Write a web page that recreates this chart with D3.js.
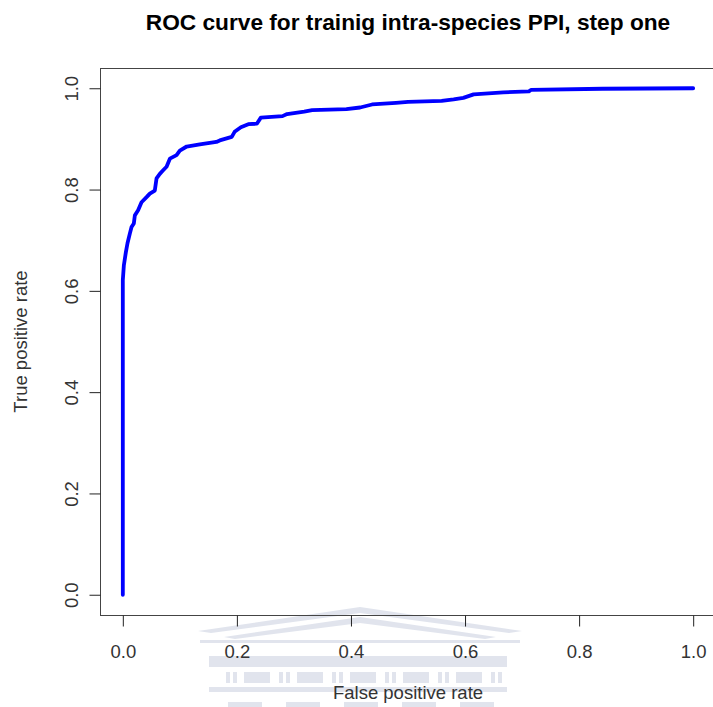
<!DOCTYPE html>
<html>
<head>
<meta charset="utf-8">
<script src="https://cdn.jsdelivr.net/npm/d3@7"></script>
<style>
  html, body { margin: 0; padding: 0; background: #fff; }
  svg { display: block; font-family: "Liberation Sans", Arial, sans-serif; }
</style>
</head>
<body>
<svg id="chart" width="713" height="707"></svg>
<script>
// ROC curve vertices (false positive rate, true positive rate)
const fpr = [0, 0, 0.0018, 0.0053, 0.0082, 0.0123, 0.0153, 0.0193, 0.0211, 0.0268,
  0.0328, 0.0416, 0.0474, 0.0561, 0.0591, 0.0649, 0.0707, 0.0767, 0.0825, 0.0942,
  0.100, 0.112, 0.135, 0.164, 0.170, 0.179, 0.191, 0.196, 0.207, 0.220,
  0.235, 0.242, 0.280, 0.288, 0.318, 0.332, 0.392, 0.416, 0.437, 0.479,
  0.500, 0.559, 0.580, 0.597, 0.615, 0.667, 0.712, 0.716, 0.841, 1.0];
const tpr = [0, 0.621, 0.650, 0.676, 0.694, 0.713, 0.726, 0.733, 0.749, 0.759,
  0.775, 0.785, 0.792, 0.798, 0.822, 0.831, 0.838, 0.845, 0.861, 0.868,
  0.877, 0.885, 0.889, 0.894, 0.897, 0.900, 0.904, 0.914, 0.923, 0.929,
  0.930, 0.942, 0.945, 0.949, 0.954, 0.957, 0.959, 0.962, 0.968, 0.971,
  0.973, 0.975, 0.978, 0.981, 0.988, 0.992, 0.994, 0.997, 0.999, 1.0];
const xTicks = [0, 0.2, 0.4, 0.6, 0.8, 1.0];
const yTicks = [0, 0.2, 0.4, 0.6, 0.8, 1.0];
const titleText = "ROC curve for trainig intra-species PPI, step one";
const xLabel = "False positive rate";
const yLabel = "True positive rate";

const svg = d3.select("#chart");
const plot = { left: 100, right: 716, top: 68, bottom: 615 };

// R-style 4% padding around the data range
const x = d3.scaleLinear().domain([-0.04, 1.04]).range([plot.left, plot.right]);
const y = d3.scaleLinear().domain([-0.04, 1.04]).range([plot.bottom, plot.top]);

// faint crest watermark behind the lower axis
const wm = svg.append("g").attr("fill", "#dce0eb").attr("stroke", "none").attr("opacity", 0.85);
wm.append("path")
  .attr("d", "M198,631 L360,607 L522,631 L509,633 L360,613 L211,633 Z");
wm.append("path")
  .attr("d", "M224,637 L360,617 L496,637 L485,639 L360,623 L235,639 Z");
wm.append("rect").attr("x", 200).attr("y", 640).attr("width", 320).attr("height", 3);
wm.append("rect").attr("x", 209).attr("y", 656).attr("width", 298).attr("height", 11);
const colGroups = d3.range(6);
colGroups.forEach(i => {
  const cx = 226 + i * 53;
  wm.append("rect").attr("x", cx).attr("y", 672).attr("width", 4).attr("height", 11);
  wm.append("rect").attr("x", cx + 7).attr("y", 672).attr("width", 4).attr("height", 11);
  if (i < 5) wm.append("rect").attr("x", cx + 18).attr("y", 672).attr("width", 26).attr("height", 11);
});
wm.append("rect").attr("x", 209).attr("y", 687).attr("width", 298).attr("height", 5);
d3.range(5).forEach(i => {
  wm.append("rect").attr("x", 228 + i * 58).attr("y", 702).attr("width", 34).attr("height", 5);
});

// curve
const line = d3.line()
  .x((d, i) => x(fpr[i]))
  .y((d, i) => y(tpr[i]));
svg.append("path")
  .datum(fpr)
  .attr("d", line)
  .attr("fill", "none")
  .attr("stroke", "#0000ff")
  .attr("stroke-width", 3.8)
  .attr("stroke-linejoin", "round")
  .attr("stroke-linecap", "round");

// plot box
svg.append("rect")
  .attr("x", plot.left + 0.5).attr("y", plot.top + 0.5)
  .attr("width", plot.right - plot.left).attr("height", plot.bottom - plot.top)
  .attr("fill", "none").attr("stroke", "#444").attr("stroke-width", 1);

const fmt = d3.format(".1f");

// x axis
const gx = svg.append("g")
  .attr("transform", `translate(0,${plot.bottom + 0.5})`)
  .call(d3.axisBottom(x).tickValues(xTicks).tickSize(11).tickFormat(fmt));
gx.select(".domain").remove();
gx.selectAll(".tick line").attr("stroke", "#222");
gx.selectAll(".tick text")
  .attr("y", 0).attr("dy", 0)
  .attr("transform", "translate(0,42)")
  .attr("fill", "#333")
  .style("font-size", "18.5px")
  .style("font-family", "'Liberation Sans', Arial, sans-serif");

// y axis
const gy = svg.append("g")
  .attr("transform", `translate(${plot.left + 0.5},0)`)
  .call(d3.axisLeft(y).tickValues(yTicks).tickSize(11).tickFormat(fmt));
gy.select(".domain").remove();
gy.selectAll(".tick line").attr("stroke", "#222");
gy.selectAll(".tick text")
  .attr("x", 0).attr("dy", 0)
  .attr("text-anchor", "middle")
  .attr("transform", "translate(-23,0) rotate(-90)")
  .attr("fill", "#333")
  .style("font-size", "18.5px")
  .style("font-family", "'Liberation Sans', Arial, sans-serif");

// axis titles
svg.append("text")
  .attr("x", (plot.left + plot.right) / 2).attr("y", 699)
  .attr("text-anchor", "middle")
  .attr("fill", "#333")
  .style("font-size", "18.5px")
  .text(xLabel);

svg.append("text")
  .attr("transform", `translate(27,${(plot.top + plot.bottom) / 2}) rotate(-90)`)
  .attr("text-anchor", "middle")
  .attr("fill", "#333")
  .style("font-size", "18.5px")
  .text(yLabel);

// main title
svg.append("text")
  .attr("x", (plot.left + plot.right) / 2).attr("y", 30)
  .attr("text-anchor", "middle")
  .attr("fill", "#000")
  .style("font-size", "22.7px")
  .style("font-weight", "bold")
  .text(titleText);
</script>
</body>
</html>
